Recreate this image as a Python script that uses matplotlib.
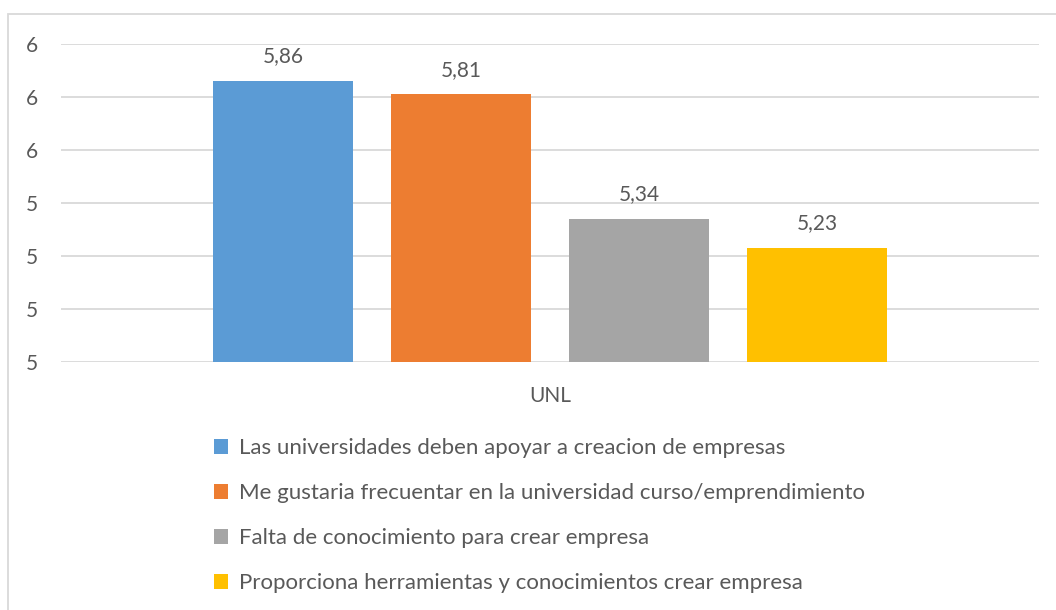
import matplotlib
matplotlib.use("Agg")
import matplotlib.pyplot as plt
from matplotlib.patches import Rectangle
from matplotlib.ticker import FixedLocator, FuncFormatter

plt.rcParams['font.family'] = ['Lato', 'DejaVu Sans']

category = "UNL"
series_names = [
    "Las universidades deben apoyar a creacion de empresas",
    "Me gustaria frecuentar en la universidad curso/emprendimiento",
    "Falta de conocimiento para crear empresa",
    "Proporciona herramientas y conocimientos crear empresa",
]
values = [5.86, 5.81, 5.34, 5.23]
colors = ["#5B9BD5", "#ED7D31", "#A5A5A5", "#FFC000"]
y_ticks = [4.8, 5.0, 5.2, 5.4, 5.6, 5.8, 6.0]

W, H = 1056, 610
fig = plt.figure(figsize=(W / 100, H / 100), dpi=100)
ax = fig.add_axes([61 / W, 1 - 362 / H, (1039 - 61) / W, (362 - 44) / H])

text_color = "#595959"
grid_color = "#D9D9D9"
fs = 15

positions = list(range(len(values)))
bar_w = 140 / 178
bars = []
for p, v, c, n in zip(positions, values, colors, series_names):
    b = ax.bar(p, v - y_ticks[0], bottom=y_ticks[0], width=bar_w, color=c, label=n, zorder=3)
    bars.append(b)
    ax.text(p, v + 0.055, f"{v:.2f}".replace(".", ","), ha="center", va="bottom",
            fontsize=fs, color=text_color)

ax.set_ylim(y_ticks[0], y_ticks[-1])
half = (1039 - 61) / 178 / 2
ax.set_xlim(1.5 - half, 1.5 + half)
ax.yaxis.set_major_locator(FixedLocator(y_ticks))
ax.yaxis.set_major_formatter(FuncFormatter(lambda v, p: f"{v:.0f}"))
ax.set_xticks([1.5])
ax.set_xticklabels([category])
ax.tick_params(axis="both", length=0, labelsize=fs, colors=text_color)
ax.tick_params(axis="x", pad=17)
for lab in ax.get_yticklabels():
    lab.set_horizontalalignment("left")
ax.tick_params(axis="y", pad=25)
ax.grid(axis="y", color=grid_color, linewidth=1.3, zorder=0)
for s in ax.spines.values():
    s.set_visible(False)

fig.legend(handles=[b[0] for b in bars], labels=series_names, loc="upper left",
           bbox_to_anchor=(214 / W, 1 - 438.5 / H), frameon=False, fontsize=16,
           labelcolor=text_color, handlelength=0.62, handleheight=0.62,
           handletextpad=0.5, labelspacing=1.12, borderpad=0, borderaxespad=0)

fig.patches.append(Rectangle((8 / W, -0.01), (W - 8) / W + 0.01, 1 - 14 / H + 0.01,
                             transform=fig.transFigure, fill=False,
                             edgecolor=grid_color, linewidth=1.3, zorder=0))

fig.savefig("out.png", dpi=100, facecolor="white")
